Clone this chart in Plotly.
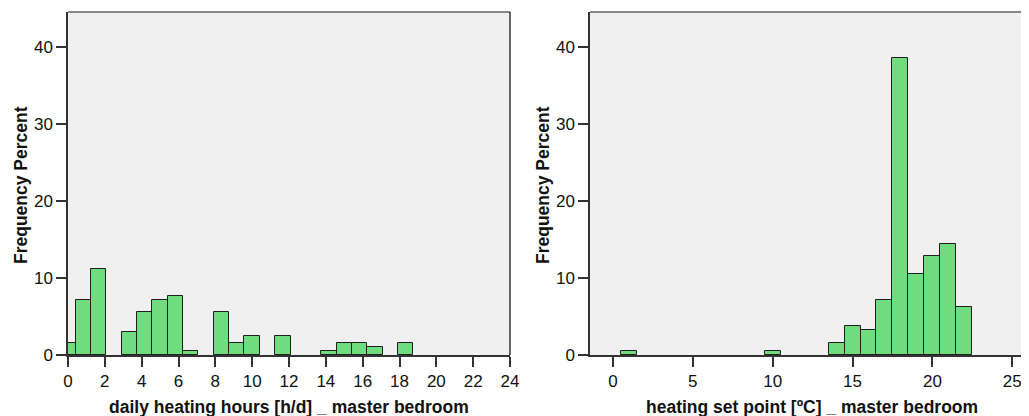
import plotly.graph_objects as go

# ---- data ----
hours_bin_centers = [0.0, 0.8333, 1.6667, 3.3333, 4.1667, 5.0, 5.8333, 6.6667,
                     8.3333, 9.1667, 10.0, 11.6667, 14.1667, 15.0, 15.8333,
                     16.6667, 18.3333]
hours_percent = [1.5, 7.1, 11.2, 3.0, 5.6, 7.1, 7.6, 0.5,
                 5.6, 1.5, 2.5, 2.5, 0.5, 1.5, 1.5, 1.0, 1.5]

setpoint_bin_centers = [1, 10, 14, 15, 16, 17, 18, 19, 20, 21, 22]
setpoint_percent = [0.5, 0.5, 1.5, 3.8, 3.3, 7.2, 38.5, 10.5, 12.9, 14.4, 6.2]

hours_ticks = [0, 2, 4, 6, 8, 10, 12, 14, 16, 18, 20, 22, 24]
setpoint_ticks = [0, 5, 10, 15, 20, 25]
y_ticks = [0, 10, 20, 30, 40]

x_title_left = "daily heating hours [h/d] _ master bedroom"
x_title_right = "heating set point [ºC] _ master bedroom"
y_title = "Frequency Percent"

# ---- styling ----
PAGE_OFF = 8            # body margin of the page
W, H = 1029 - PAGE_OFF, 416 - PAGE_OFF
BAR_FILL = "rgb(112,220,128)"
BAR_LINE = "#1e1e1e"
AX = "#333333"
FONT = "Liberation Sans, Arial, sans-serif"
TITLE_SIZE = 17.5

def px_x(p):
    return (p - PAGE_OFF) / W

def px_y(p):
    return 1 - (p - PAGE_OFF) / H

fig = go.Figure()
fig.add_trace(go.Bar(x=hours_bin_centers, y=hours_percent, width=5 / 6,
                     marker=dict(color=BAR_FILL, line=dict(color=BAR_LINE, width=1)),
                     xaxis="x", yaxis="y", showlegend=False))
fig.add_trace(go.Bar(x=setpoint_bin_centers, y=setpoint_percent, width=1,
                     marker=dict(color=BAR_FILL, line=dict(color=BAR_LINE, width=1)),
                     xaxis="x2", yaxis="y2", showlegend=False))

ydom = [px_y(355), px_y(12)]
common_x = dict(showgrid=False, zeroline=False, showline=True, linecolor=AX, linewidth=1.5,
                ticks="outside", ticklen=10, tickcolor=AX, tickwidth=1.5, automargin=False,
                tickfont=dict(family=FONT, size=17, color="#111"), fixedrange=True)
common_y = dict(showgrid=False, zeroline=False, showline=True, linecolor=AX, linewidth=1.5,
                ticks="outside", ticklen=10, tickcolor=AX, tickwidth=1.5, automargin=False,
                tickfont=dict(family=FONT, size=17, color="#111"),
                range=[0, 44.5], tickvals=y_ticks, domain=ydom, fixedrange=True)

title_font = dict(family=FONT, size=TITLE_SIZE, color="#111")

fig.update_layout(
    template="none",
    width=W, height=H,
    margin=dict(l=0, r=0, t=0, b=0, pad=0, autoexpand=False),
    paper_bgcolor="white", plot_bgcolor="#f0f0f0",
    bargap=0,
    xaxis=dict(common_x, domain=[px_x(68), px_x(510)], range=[0, 24],
               tickvals=hours_ticks, anchor="y"),
    yaxis=dict(common_y, anchor="x"),
    xaxis2=dict(common_x, domain=[px_x(590), 1.0], range=[-1.44, 26.05],
                tickvals=setpoint_ticks, anchor="y2"),
    yaxis2=dict(common_y, anchor="x2"),
    shapes=[
        dict(type="line", xref="x domain", yref="y domain", x0=0, x1=1, y0=1, y1=1,
             line=dict(color="#888888", width=2)),
        dict(type="line", xref="x2 domain", yref="y2 domain", x0=0, x1=1, y0=1, y1=1,
             line=dict(color="#888888", width=2)),
        dict(type="line", xref="x domain", yref="y domain", x0=1, x1=1, y0=0, y1=1,
             line=dict(color=AX, width=1.5)),
    ],
    annotations=[
        dict(text="<b>%s</b>" % x_title_left, xref="paper", yref="paper",
             x=px_x(289), y=px_y(407), showarrow=False,
             font=title_font, xanchor="center", yanchor="middle"),
        dict(text="<b>%s</b>" % x_title_right, xref="paper", yref="paper",
             x=px_x(812), y=px_y(407), showarrow=False,
             font=title_font, xanchor="center", yanchor="middle"),
        dict(text="<b>%s</b>" % y_title, xref="paper", yref="paper",
             x=px_x(21), y=px_y(185), showarrow=False, textangle=-90,
             font=title_font, xanchor="center", yanchor="middle"),
        dict(text="<b>%s</b>" % y_title, xref="paper", yref="paper",
             x=px_x(543), y=px_y(185), showarrow=False, textangle=-90,
             font=title_font, xanchor="center", yanchor="middle"),
    ],
)

fig.write_html("out.html")
